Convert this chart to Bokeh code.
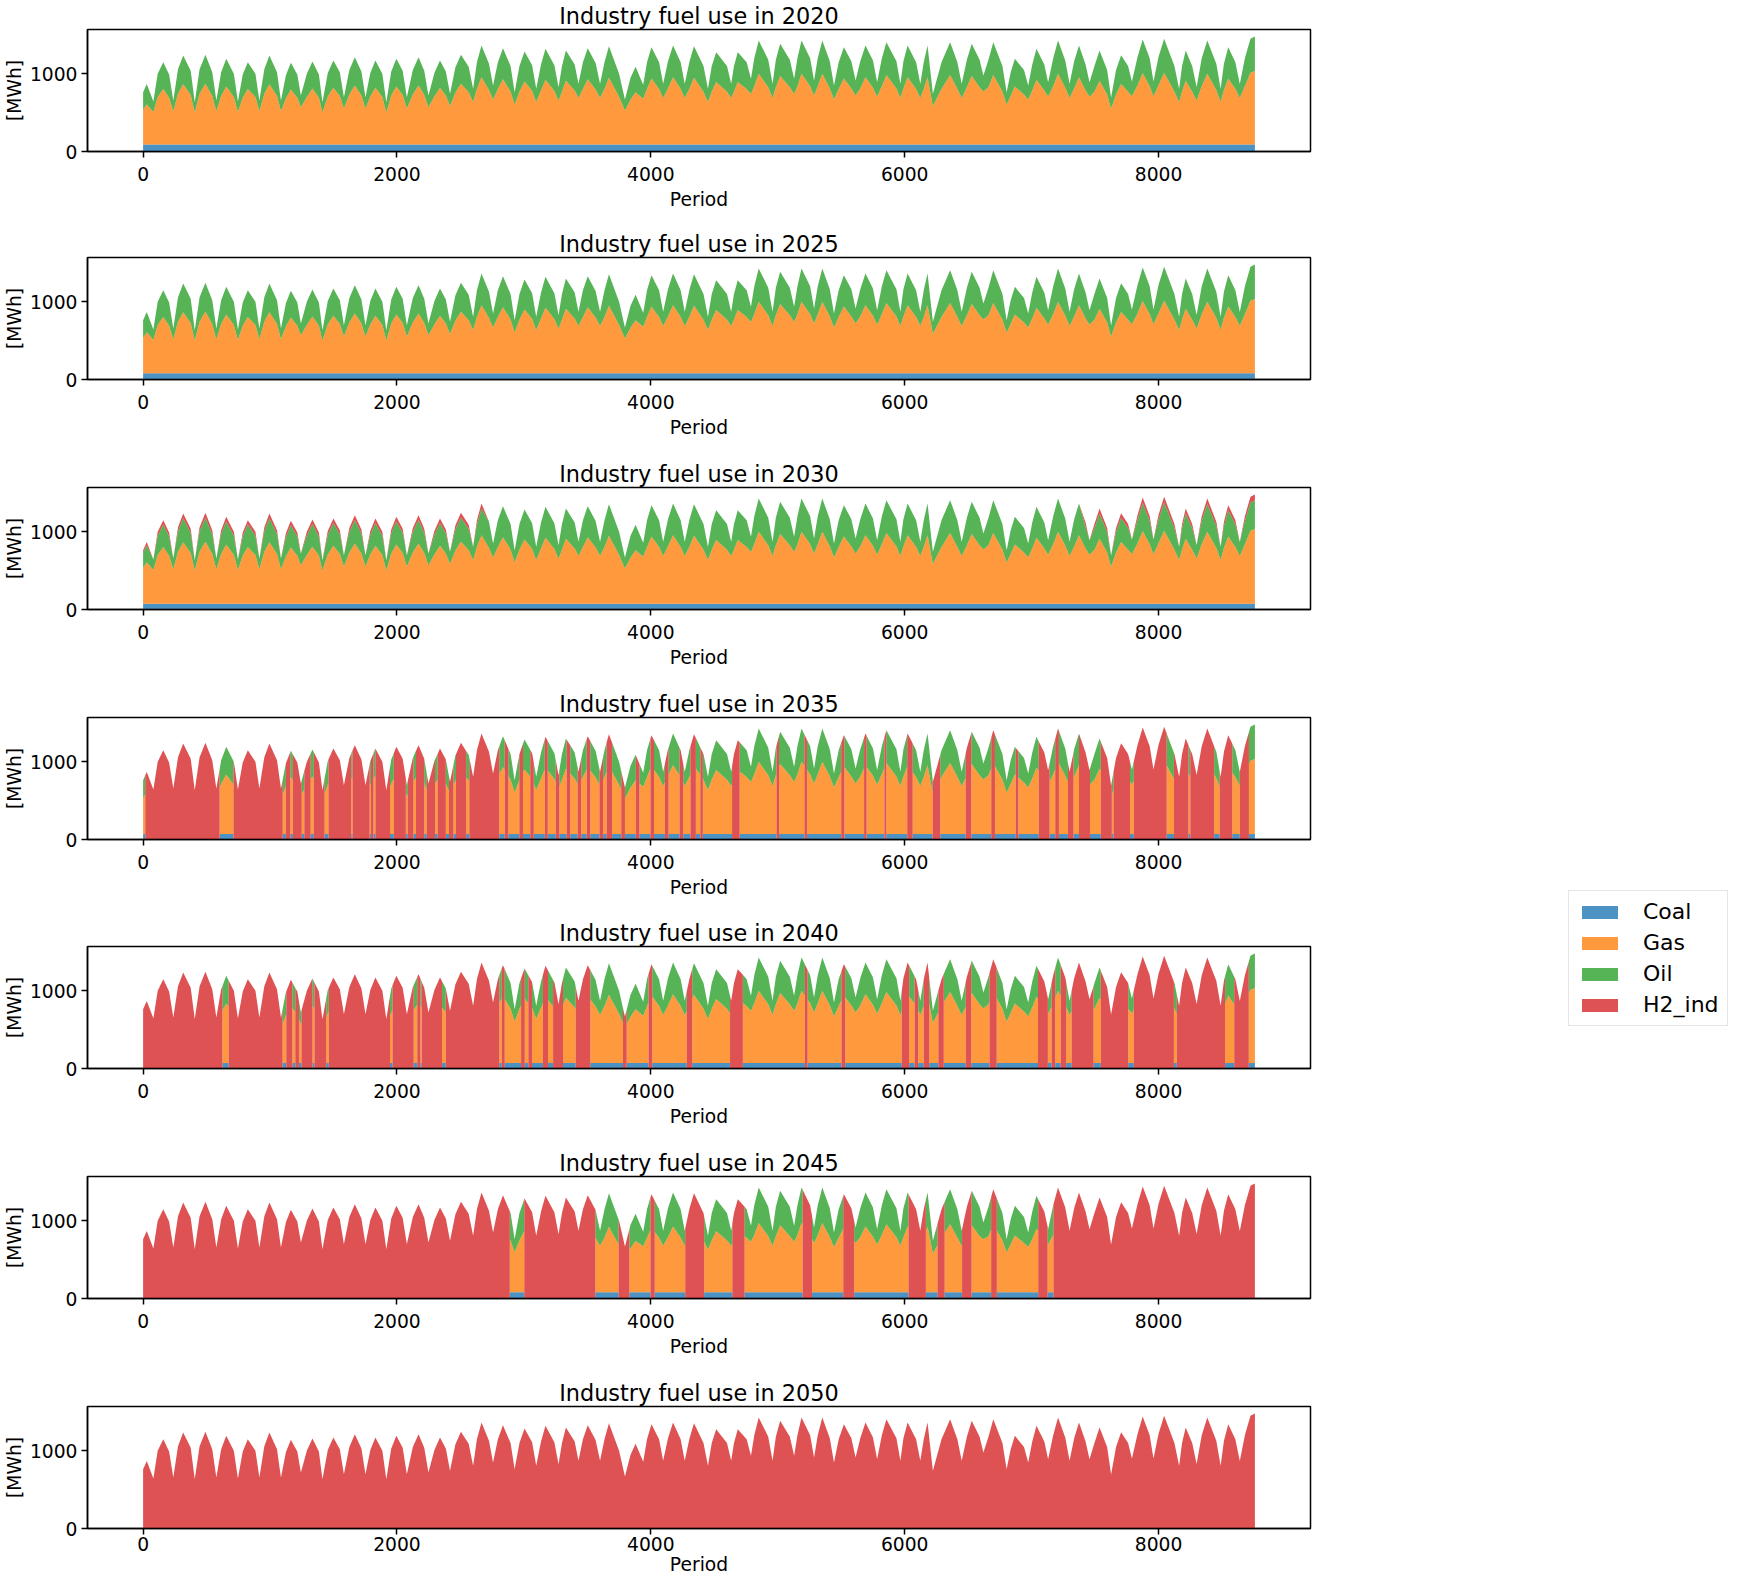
import numpy as np
from bokeh.plotting import figure
from bokeh.layouts import column, row
from bokeh.models import ColumnDataSource, Range1d, FixedTicker, Legend, LegendItem
from bokeh.embed import file_html
from bokeh.resources import INLINE

# ---------------- data ----------------
years = [2020, 2025, 2030, 2035, 2040, 2045, 2050]
fuels = ["Coal", "Gas", "Oil", "H2_ind"]
colors = ["#1f77b4", "#ff7f0e", "#2ca02c", "#d62728"]

# total industry fuel demand (same profile every year): weekly troughs, shoulders, peaks
hours = [0, 29, 81, 115, 159, 205, 238, 275, 316, 375, 407, 445, 491, 545, 577, 615, 655,
         715, 747, 785, 825, 885, 916, 955, 995, 1055, 1086, 1125, 1164, 1215, 1243, 1290,
         1334, 1385, 1413, 1455, 1499, 1550, 1582, 1625, 1668, 1720, 1752, 1790, 1830, 1885,
         1916, 1955, 1995, 2045, 2078, 2125, 2170, 2215, 2248, 2295, 2339, 2385, 2418, 2460,
         2504, 2565, 2600, 2630, 2666, 2725, 2757, 2795, 2835, 2895, 2927, 2965, 3005, 3065,
         3097, 3135, 3170, 3240, 3273, 3300, 3331, 3400, 3430, 3465, 3503, 3565, 3600, 3635,
         3670, 3750, 3796, 3840, 3880, 3940, 3970, 4005, 4065, 4097, 4135, 4175, 4235, 4267,
         4305, 4340, 4415, 4450, 4480, 4515, 4600, 4633, 4655, 4685, 4755, 4789, 4815, 4850,
         4925, 4959, 4985, 5019, 5095, 5129, 5155, 5187, 5255, 5286, 5315, 5351, 5410, 5443,
         5480, 5521, 5580, 5613, 5650, 5691, 5750, 5783, 5820, 5856, 5935, 5966, 5990, 6023,
         6090, 6123, 6150, 6180, 6222, 6290, 6358, 6415, 6449, 6490, 6528, 6590, 6620, 6660,
         6698, 6770, 6803, 6835, 6868, 6940, 6973, 7005, 7038, 7100, 7130, 7170, 7208, 7265,
         7299, 7335, 7373, 7425, 7456, 7495, 7535, 7595, 7626, 7665, 7705, 7760, 7790, 7835,
         7875, 7930, 7960, 8000, 8044, 8125, 8162, 8185, 8214, 8265, 8300, 8340, 8384, 8455,
         8489, 8515, 8549, 8605, 8640, 8680, 8724, 8759]
total_mwh = [764, 870, 645, 1000, 1150, 990, 656, 1060, 1235, 1040, 635, 1060, 1244, 1020,
             656, 1020, 1193, 1000, 644, 990, 1150, 1000, 656, 1060, 1235, 1020, 656, 980,
             1141, 990, 721, 1000, 1158, 990, 635, 1010, 1171, 1020, 699, 1050, 1214, 1030,
             699, 1010, 1171, 1000, 635, 1030, 1193, 1040, 699, 1050, 1214, 1040, 721, 1010,
             1171, 1030, 742, 1080, 1244, 1090, 807, 1150, 1364, 1130, 849, 1150, 1330, 1100,
             764, 1100, 1287, 1110, 807, 1120, 1321, 1110, 828, 1100, 1300, 1120, 871, 1150,
             1330, 1140, 871, 1150, 1356, 1000, 669, 950, 1090, 860, 1150, 1343, 1150, 871,
             1160, 1364, 1150, 871, 1160, 1356, 1100, 807, 1100, 1278, 1100, 871, 1100, 1278,
             1150, 935, 1200, 1429, 1180, 871, 1180, 1386, 1180, 935, 1200, 1429, 1200, 914,
             1200, 1429, 1160, 849, 1150, 1343, 1160, 914, 1160, 1364, 1170, 892, 1200, 1407,
             1160, 871, 1160, 1364, 1150, 871, 1150, 1364, 742, 1150, 1407, 1150, 871, 1180,
             1386, 1180, 978, 1180, 1407, 1100, 764, 1020, 1193, 1050, 849, 1120, 1321, 1120,
             892, 1200, 1429, 1170, 871, 1160, 1364, 1120, 892, 1100, 1300, 1050, 695, 1050,
             1240, 1100, 900, 1220, 1441, 1200, 900, 1220, 1450, 1100, 807, 1100, 1300, 1100,
             830, 1200, 1429, 1130, 807, 1130, 1343, 1150, 870, 1200, 1450, 1480]

# fossil mix per year
coal_level = {2020: 90, 2025: 80, 2030: 75, 2035: 70, 2040: 70, 2045: 80, 2050: 0}
oil_share_high = {2020: 0.30, 2025: 0.30, 2030: 0.30, 2035: 0.30, 2040: 0.30, 2045: 0.32, 2050: 0.0}
oil_share_trough = {2020: 0.21, 2025: 0.21, 2030: 0.21, 2035: 0.21, 2040: 0.21, 2045: 0.22, 2050: 0.0}

# small hydrogen share on top of the peaks in 2030
h2_top_share = {2030: 0.05}
h2_top_periods_2030 = [[0, 2700], [7400, 8759]]

# periods (hours) in which industry runs fully on hydrogen
h2_2035 = [[17, 603], [712, 1100], [1125, 1160], [1180, 1250], [1270, 1320], [1345, 1430],
           [1460, 1640], [1650, 1785], [1795, 1815], [1830, 1945], [1975, 2070], [2085, 2130],
           [2150, 2215], [2235, 2300], [2320, 2385], [2410, 2445], [2465, 2545], [2570, 2806],
           [2849, 2878], [2964, 2993], [3050, 3078], [3165, 3188], [3251, 3279], [3337, 3365],
           [3423, 3452], [3495, 3523], [3595, 3624], [3652, 3695], [3767, 3796], [3882, 3910],
           [3997, 4025], [4111, 4140], [4226, 4255], [4312, 4355], [4390, 4410], [4640, 4700],
           [4990, 5010], [5210, 5230], [5500, 5525], [5680, 5700], [5840, 5855], [6020, 6063],
           [6220, 6280], [6480, 6525], [6682, 6711], [6875, 6895], [7056, 7142], [7186, 7215],
           [7286, 7330], [7373, 7460], [7545, 7632], [7645, 7775], [7805, 8064], [8121, 8236],
           [8250, 8438], [8481, 8581], [8640, 8712]]
h2_2040 = [[0, 625], [674, 1099], [1128, 1176], [1199, 1228], [1248, 1335], [1350, 1443],
           [1463, 1945], [1965, 2132], [2160, 2185], [2195, 2355], [2384, 2806], [2826, 2849],
           [2978, 3007], [3035, 3064], [3150, 3190], [3230, 3308], [3408, 3523], [3781, 3810],
           [3982, 4011], [4283, 4326], [4624, 4725], [5214, 5235], [5502, 5531], [5977, 6035],
           [6078, 6106], [6150, 6193], [6265, 6308], [6481, 6524], [6668, 6725], [7050, 7128],
           [7157, 7186], [7229, 7272], [7315, 7488], [7545, 7761], [7805, 8121], [8144, 8524],
           [8596, 8711]]
h2_2045 = [[0, 2889], [3003, 3563], [3746, 3831], [3997, 4031], [4271, 4420], [4642, 4739],
           [5196, 5270], [5516, 5602], [6030, 6167], [6258, 6315], [6452, 6527], [6681, 6726],
           [7052, 7126], [7172, 8759]]
h2_2050 = [[0, 8759]]
h2_periods = {2020: [], 2025: [], 2030: [], 2035: h2_2035, 2040: h2_2040, 2045: h2_2045, 2050: h2_2050}
h2_top_periods = {2030: h2_top_periods_2030}

# ---------------- build stacked tables ----------------
H = np.array(hours, dtype=float)
T = np.array(total_mwh, dtype=float)
is_trough = np.zeros(len(T), dtype=bool)
for i in range(1, len(T) - 1):
    is_trough[i] = T[i] < T[i - 1] and T[i] < T[i + 1]


def build(year):
    coal = np.minimum(coal_level[year], T)
    oil = T * np.where(is_trough, oil_share_trough[year], oil_share_high[year])
    gas = T - coal - oil
    top = np.zeros(len(T))
    if year in h2_top_share:
        for j, h in enumerate(hours):
            if not is_trough[j] and any(s <= h <= e for s, e in h2_top_periods[year]):
                top[j] = T[j] * h2_top_share[year]
        oil = oil - top
    iv = h2_periods[year]
    xs = sorted(set(hours) | {b for s, e in iv for b in (s, e)})
    d = {"x": [], "coal": [], "gas": [], "oil": [], "h2": []}
    for x in xs:
        t = float(np.interp(x, H, T))
        c = float(np.interp(x, H, coal))
        g = float(np.interp(x, H, gas))
        o = float(np.interp(x, H, oil))
        tp = float(np.interp(x, H, top))
        left = any(s < x <= e for s, e in iv)
        right = any(s <= x < e for s, e in iv)
        states = [left, right] if left != right else [left]
        for st in states:
            d["x"].append(x)
            if st:
                d["coal"].append(0.0); d["gas"].append(0.0); d["oil"].append(0.0); d["h2"].append(t)
            else:
                d["coal"].append(c); d["gas"].append(g); d["oil"].append(o); d["h2"].append(tp)
    return ColumnDataSource(d)


FONT = "DejaVu Sans"
TOP = 28
fig_heights = [228, 230, 230, 229, 230, 230, 201]
figs = []
for k, year in enumerate(years):
    last = k == len(years) - 1
    bottom = fig_heights[k] - TOP - 123
    p = figure(width=1490, height=fig_heights[k],
               x_range=Range1d(-438, 9197), y_range=Range1d(0, 1570),
               output_backend="svg", toolbar_location=None,
               min_border_left=81, min_border_right=180,
               min_border_top=TOP, min_border_bottom=bottom)
    src = build(year)
    p.varea_stack(stackers=["coal", "gas", "oil", "h2"], x="x", source=src,
                  fill_color=colors, fill_alpha=0.8)
    p.title.text = f"Industry fuel use in {year}"
    p.title.align = "center"
    p.title.text_font = FONT
    p.title.text_font_size = "22.4px"
    p.title.text_font_style = "normal"
    p.title.text_color = "black"
    p.title.standoff = 1
    p.xaxis.axis_label = "Period"
    p.yaxis.axis_label = "[MWh]"
    for ax in (p.xaxis[0], p.yaxis[0]):
        ax.axis_label_text_font = FONT
        ax.axis_label_text_font_size = "18.7px"
        ax.axis_label_text_font_style = "normal"
        ax.axis_label_text_color = "black"
        ax.major_label_text_font = FONT
        ax.major_label_text_font_size = "18.7px"
        ax.major_label_text_color = "black"
        ax.major_tick_out = 6
        ax.major_tick_in = 0
        ax.minor_tick_out = 0
        ax.minor_tick_in = 0
        ax.major_tick_line_width = 1.5
        ax.axis_line_width = 1.5
    p.xaxis.major_label_standoff = 2 if last else 9
    p.xaxis.axis_label_standoff = 0 if last else 5
    p.yaxis.major_label_standoff = 4
    p.yaxis.axis_label_standoff = 2
    p.xaxis.ticker = FixedTicker(ticks=[0, 2000, 4000, 6000, 8000])
    p.yaxis.ticker = FixedTicker(ticks=[0, 1000])
    p.xgrid.visible = False
    p.ygrid.visible = False
    p.outline_line_color = "black"
    p.outline_line_width = 1.5
    figs.append(p)

# legend panel
total_h = sum(fig_heights)
lf = figure(width=240, height=total_h, x_range=Range1d(0, 1), y_range=Range1d(0, 1),
            output_backend="svg", toolbar_location=None, min_border=0,
            x_axis_location=None, y_axis_location=None)
lf.outline_line_color = None
lf.xgrid.visible = False
lf.ygrid.visible = False
items = []
for name, c in zip(fuels, colors):
    r = lf.quad(left=[5], right=[6], top=[6], bottom=[5], fill_color=c, fill_alpha=0.8, line_color=None)
    items.append(LegendItem(label=name, renderers=[r]))
leg = Legend(items=items, location=(78, total_h - 1026))
leg.label_text_font = FONT
leg.label_text_font_size = "22px"
leg.label_text_color = "black"
leg.glyph_width = 45
leg.glyph_height = 16
leg.label_height = 22
leg.spacing = 6
leg.padding = 8
leg.margin = 0
leg.label_standoff = 21
leg.border_line_color = "#cccccc"
leg.border_line_width = 1
leg.background_fill_alpha = 0.8
lf.add_layout(leg)

layout = row(column(*figs, spacing=0), lf, spacing=0)

open("out.html", "w").write(file_html(layout, INLINE))
